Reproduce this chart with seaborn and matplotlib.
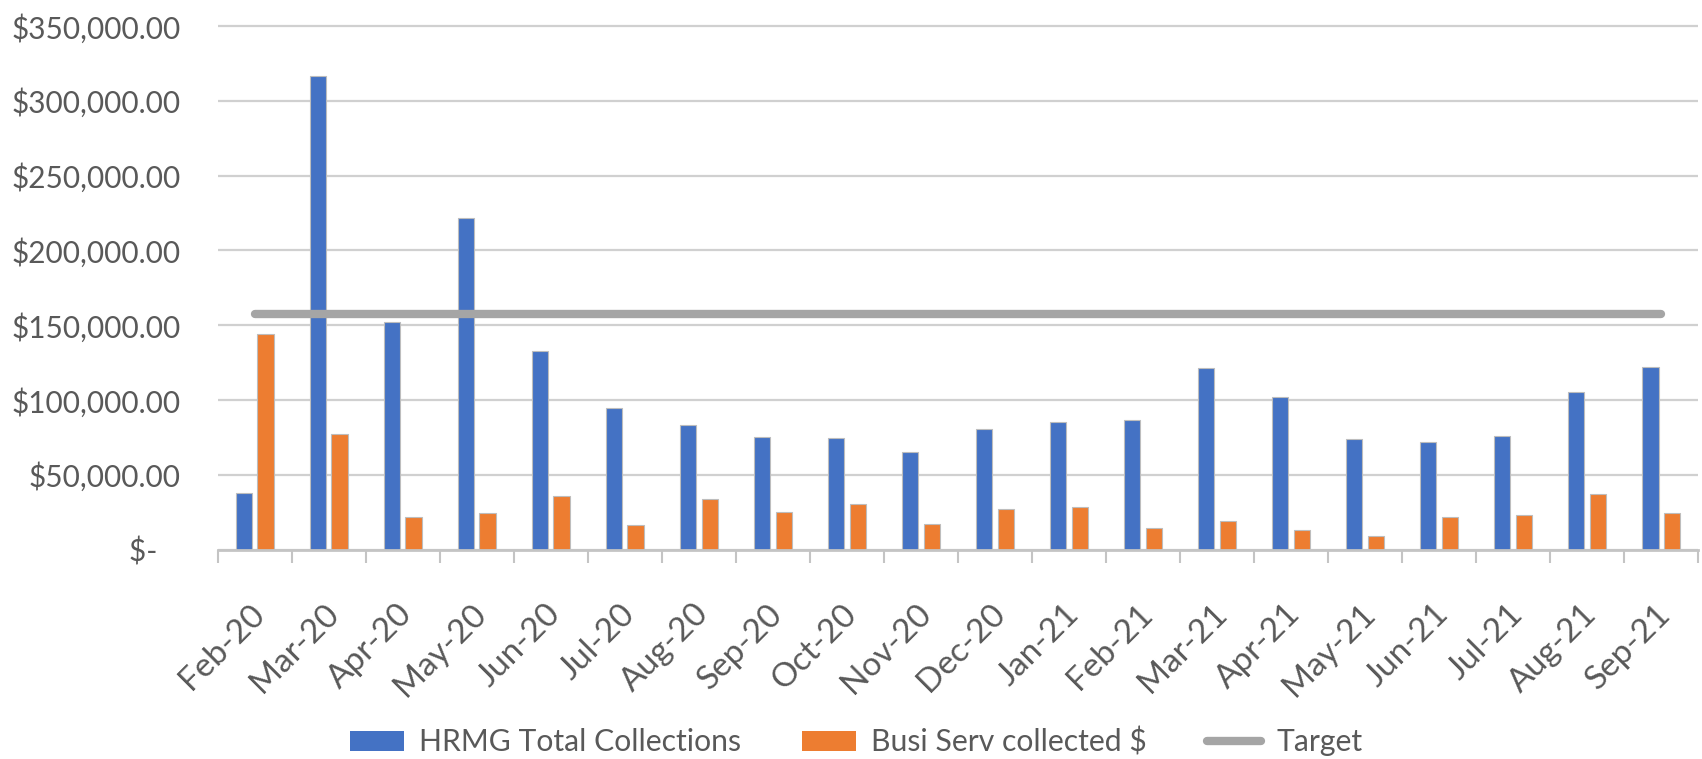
import numpy as np
import pandas as pd
import matplotlib
matplotlib.use("Agg")
import matplotlib.pyplot as plt
from matplotlib.patches import Patch
from matplotlib.lines import Line2D
from matplotlib.ticker import FixedLocator, FuncFormatter
from matplotlib.transforms import ScaledTranslation
import seaborn as sns

# Monthly collections
months = ["Feb-20", "Mar-20", "Apr-20", "May-20", "Jun-20", "Jul-20", "Aug-20",
          "Sep-20", "Oct-20", "Nov-20", "Dec-20", "Jan-21", "Feb-21", "Mar-21",
          "Apr-21", "May-21", "Jun-21", "Jul-21", "Aug-21", "Sep-21"]
hrmg_total = [37500, 316600, 152000, 221400, 132700, 94600, 83500,
              75300, 74400, 65300, 80400, 85500, 86400, 121300,
              102200, 74200, 72200, 76200, 105300, 122200]
busi_serv = [144300, 77500, 21500, 24600, 35500, 16300, 33500,
             25300, 30400, 17300, 27300, 28400, 14400, 19100,
             13100, 9100, 22000, 23100, 37100, 24200]
target = [157500, 157500, 157500, 157500, 157500, 157500, 157500,
          157500, 157500, 157500, 157500, 157500, 157500, 157500,
          157500, 157500, 157500, 157500, 157500, 157500]
series_names = ["HRMG Total Collections", "Busi Serv collected $", "Target"]

BLUE = "#4472C4"
ORANGE = "#ED7D31"
GREY = "#A5A5A5"
TEXT = "#595959"
GRID = "#D0D0D0"
AXIS = "#C4C4C4"

df = pd.DataFrame({
    "month": months * 2,
    "value": hrmg_total + busi_serv,
    "series": [series_names[0]] * len(months) + [series_names[1]] * len(months),
})

sns.set_theme(style="white")
plt.rcParams["font.family"] = ["Lato", "DejaVu Sans"]

fig = plt.figure(figsize=(17.02, 7.59), dpi=100)
ax = fig.add_axes([0.128, 0.276, 0.8697, 0.6925])

sns.barplot(data=df, x="month", y="value", hue="series", order=months,
            hue_order=series_names[:2], palette=[BLUE, ORANGE], saturation=1,
            width=0.58, gap=0.24, edgecolor="#BDBDBD", linewidth=0.8,
            legend=False, ax=ax, zorder=3)

sns.lineplot(x=np.arange(len(months)), y=target, color=GREY, linewidth=6,
             solid_capstyle="round", ax=ax, zorder=4)

ax.set_xlim(-0.5, len(months) - 0.5)
ax.set_ylim(0, 351500)
ax.set_xlabel("")
ax.set_ylabel("")

# y axis: accounting-style dollar labels with horizontal gridlines
ax.yaxis.set_major_locator(FixedLocator(np.arange(0, 350001, 50000)))
ax.yaxis.set_major_formatter(FuncFormatter(
    lambda v, p: "$-   " if v == 0 else f"${v:,.2f}"))
ax.yaxis.grid(True, color=GRID, linewidth=1.6, zorder=0)
ax.tick_params(axis="y", length=0, pad=27, labelsize=21.4, labelcolor=TEXT)

# x axis: labels at category centres, tick marks on category boundaries
ax.set_xticks(np.arange(len(months)))
ax.set_xticklabels(months, rotation=45, ha="right", va="center",
                   rotation_mode="anchor")
ax.tick_params(axis="x", which="major", length=0, pad=43, labelsize=24,
               labelcolor=TEXT)
shift = ScaledTranslation(5 / 100, 0, fig.dpi_scale_trans)
for lab in ax.get_xticklabels():
    lab.set_transform(lab.get_transform() + shift)
ax.xaxis.set_minor_locator(FixedLocator(np.arange(-0.5, len(months), 1.0)))
ax.tick_params(axis="x", which="minor", bottom=True, length=9, width=1.5,
               color=AXIS, direction="out")

for side in ["top", "right", "left"]:
    ax.spines[side].set_visible(False)
ax.spines["bottom"].set_color(AXIS)
ax.spines["bottom"].set_linewidth(2)
ax.spines["bottom"].set_zorder(5)

handles = [
    Patch(facecolor=BLUE, edgecolor="none"),
    Patch(facecolor=ORANGE, edgecolor="none"),
    Line2D([0], [0], color=GREY, linewidth=6, solid_capstyle="round"),
]
fig.legend(handles, series_names, loc="center", bbox_to_anchor=(0.503, 0.0224),
           ncol=3, frameon=False, fontsize=21.7, labelcolor=TEXT,
           handlelength=1.8, handleheight=0.68, handletextpad=0.5,
           columnspacing=2.0)

fig.savefig("out.png", dpi=100)
